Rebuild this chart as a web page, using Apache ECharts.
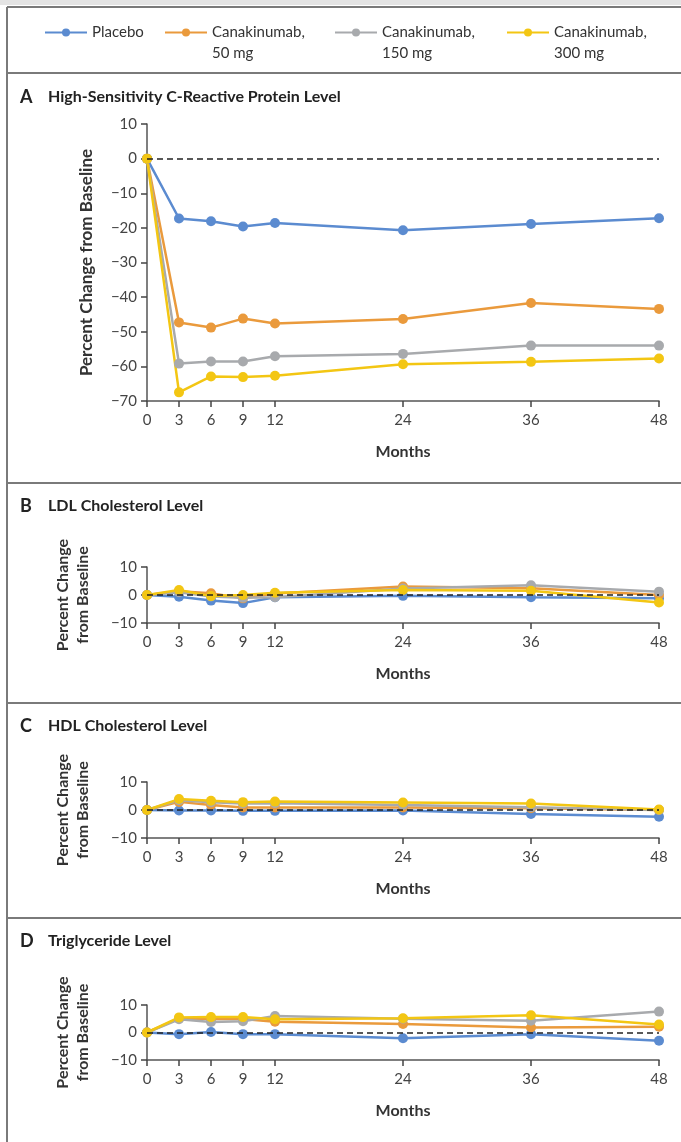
<!DOCTYPE html>
<html>
<head>
<meta charset="utf-8">
<script src="https://cdn.jsdelivr.net/npm/echarts@6/dist/echarts.min.js"></script>
<style>
html, body { margin: 0; padding: 0; background: #fff; }
#chart { width: 681px; height: 1142px; }
</style>
</head>
<body>
<div id="chart"></div>
<script>
// x axis: months since randomization
var months = [0, 3, 6, 9, 12, 24, 36, 48];
var yTicksLarge = [-70, 10];
var yTicksSmall = [-10, 10];

var groupNames = ['Placebo', 'Canakinumab,\n50 mg', 'Canakinumab,\n150 mg', 'Canakinumab,\n300 mg'];
var groupColors = ['#5b8bd0', '#ea9a3c', '#a8aaad', '#f3c613'];

// A: hsCRP
var crpPlacebo = [0, -17.3, -18.1, -19.6, -18.6, -20.7, -18.9, -17.2];
var crp50 = [0, -47.3, -48.8, -46.2, -47.6, -46.3, -41.7, -43.4];
var crp150 = [0, -59.2, -58.6, -58.6, -57.1, -56.4, -54.0, -54.0];
var crp300 = [0, -67.5, -62.9, -63.1, -62.7, -59.4, -58.7, -57.7];

// B: LDL
var ldlPlacebo = [0, -0.6, -2.0, -2.9, -0.8, -0.3, -0.8, -1.2];
var ldl50 = [0, 1.3, 0.6, -1.2, 0.5, 3.0, 2.4, 0];
var ldl150 = [0, 1.0, -0.5, -1.0, -0.8, 2.3, 3.5, 1.2];
var ldl300 = [0, 1.8, -0.4, 0, 0.8, 1.8, 1.5, -2.7];

// C: HDL
var hdlPlacebo = [0, -0.2, -0.2, -0.3, -0.3, -0.2, -1.4, -2.4];
var hdl50 = [0, 2.9, 1.8, 0.9, 0.9, 0.9, 0.6, 0];
var hdl150 = [0, 3.5, 2.8, 2.3, 2.4, 1.8, 1.0, 0];
var hdl300 = [0, 3.9, 3.3, 2.8, 3.0, 2.7, 2.3, 0.2];

// D: triglycerides
var tgPlacebo = [0, -0.6, 0.2, -0.6, -0.6, -2.1, -0.6, -3.0];
var tg50 = [0, 5.1, 4.9, 4.9, 3.9, 3.1, 1.8, 2.1];
var tg150 = [0, 4.8, 3.8, 4.1, 6.0, 5.0, 4.3, 7.6];
var tg300 = [0, 5.5, 5.6, 5.6, 4.8, 5.2, 6.3, 2.9];

var font = 'Lato';

var panels = [
    { letter: 'A', title: 'High-Sensitivity C-Reactive Protein Level', titleY: 88, top: 124, height: 277,
      range: yTicksLarge, yName: 'Percent Change from Baseline', yGap: 50, ySize: 17,
      data: [crpPlacebo, crp50, crp150, crp300] },
    { letter: 'B', title: 'LDL Cholesterol Level', titleY: 497, top: 567, height: 56,
      range: yTicksSmall, yName: 'Percent Change\nfrom Baseline', yGap: 54, ySize: 16,
      data: [ldlPlacebo, ldl50, ldl150, ldl300] },
    { letter: 'C', title: 'HDL Cholesterol Level', titleY: 717, top: 782, height: 56,
      range: yTicksSmall, yName: 'Percent Change\nfrom Baseline', yGap: 54, ySize: 16,
      data: [hdlPlacebo, hdl50, hdl150, hdl300] },
    { letter: 'D', title: 'Triglyceride Level', titleY: 932, top: 1005, height: 55,
      range: yTicksSmall, yName: 'Percent Change\nfrom Baseline', yGap: 54, ySize: 16,
      data: [tgPlacebo, tg50, tg150, tg300] }
];

var grids = [], xAxes = [], yAxes = [], series = [], titles = [];

panels.forEach(function (p, i) {
    grids.push({ left: 147, right: 22, top: p.top, height: p.height });

    xAxes.push({
        gridIndex: i, type: 'value', min: 0, max: 48, interval: 3,
        name: 'Months', nameLocation: 'middle', nameGap: 43,
        nameTextStyle: { fontFamily: font, fontSize: 16, fontWeight: 'bold', color: '#333' },
        axisLine: { show: true, onZero: false, lineStyle: { color: '#555', width: 1.5 } },
        axisTick: { show: true, length: 6, customValues: months, lineStyle: { color: '#444', width: 1.5 } },
        axisLabel: { customValues: months, margin: 12, fontFamily: font, fontSize: 15, color: '#444' },
        splitLine: { show: false }
    });

    yAxes.push({
        gridIndex: i, type: 'value', min: p.range[0], max: p.range[1], interval: 10,
        name: p.yName, nameLocation: 'middle', nameGap: p.yGap, nameRotate: 90,
        nameTextStyle: { fontFamily: font, fontSize: p.ySize, fontWeight: 'bold', color: '#333', lineHeight: 20 },
        axisLine: { show: true, onZero: false, lineStyle: { color: '#555', width: 1.5 } },
        axisTick: { show: true, length: 6, lineStyle: { color: '#444', width: 1.5 } },
        axisLabel: { margin: 10, fontFamily: font, fontSize: 15, color: '#444',
            formatter: function (v) { return v < 0 ? '\u2212' + Math.abs(v) : String(v); } },
        splitLine: { show: false }
    });

    p.data.forEach(function (vals, k) {
        var s = {
            name: groupNames[k], type: 'line', xAxisIndex: i, yAxisIndex: i,
            data: months.map(function (m, j) { return [m, vals[j]]; }),
            symbol: 'circle', symbolSize: 10, showSymbol: true,
            lineStyle: { color: groupColors[k], width: 2.5 },
            itemStyle: { color: groupColors[k] },
            emphasis: { disabled: true },
            animation: false
        };
        // dashed zero line, drawn with the last series so it sits on top
        if (k === 3) {
            s.markLine = {
                silent: true, symbol: 'none', label: { show: false },
                lineStyle: { color: '#222', type: [6, 4], width: 1.5 },
                data: [[{ coord: [0, 0] }, { coord: [48, 0] }]]
            };
        }
        series.push(s);
    });

    titles.push({
        text: '{l|' + p.letter + '}{t|' + p.title + '}',
        left: 20, top: p.titleY, padding: 0,
        textStyle: {
            rich: {
                l: { fontFamily: font, fontSize: 18, fontWeight: 'bold', color: '#222', width: 28 },
                t: { fontFamily: font, fontSize: 16, fontWeight: 'bold', color: '#222' }
            }
        }
    });
});

// one legend per group so each can be placed like the reference;
// a blank first line keeps the icon level with the first text line
var legendLeft = [44, 164, 334, 506];
var legends = groupNames.map(function (n, k) {
    var twoLine = n.indexOf('\n') >= 0;
    return {
        data: [n], left: legendLeft[k], top: twoLine ? 1 : 22, padding: 0,
        itemWidth: 42, itemHeight: 10, selectedMode: false,
        formatter: function (name) { return twoLine ? '\n' + name : name; },
        textStyle: { fontFamily: font, fontSize: 15, color: '#333', lineHeight: 21 }
    };
});

// panel frame lines
var frameColor = '#7a7a7a';
var graphics = [
    { type: 'rect', shape: { x: 0, y: 0, width: 681, height: 5 }, style: { fill: '#e4e4e4' } },
    { type: 'line', shape: { x1: 7, y1: 7, x2: 681, y2: 7 }, style: { stroke: frameColor, lineWidth: 2 } },
    { type: 'line', shape: { x1: 7, y1: 7, x2: 7, y2: 1142 }, style: { stroke: frameColor, lineWidth: 2 } }
];
[73, 483, 703, 918].forEach(function (y) {
    graphics.push({ type: 'line', shape: { x1: 7, y1: y, x2: 681, y2: y }, style: { stroke: frameColor, lineWidth: 2 } });
});

var myChart = echarts.init(document.getElementById('chart'));
var option = {
    backgroundColor: '#fff',
    animation: false,
    title: titles,
    legend: legends,
    grid: grids,
    xAxis: xAxes,
    yAxis: yAxes,
    series: series,
    graphic: graphics
};
option && myChart.setOption(option);
</script>
</body>
</html>
